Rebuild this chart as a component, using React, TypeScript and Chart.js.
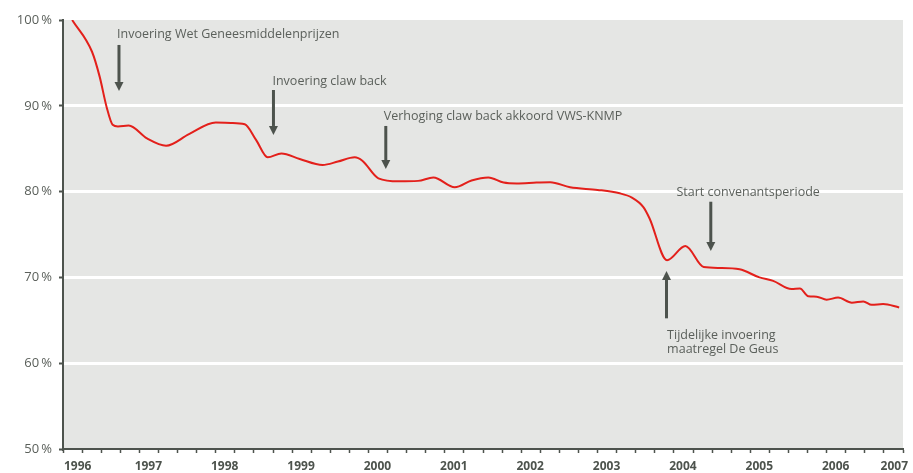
import React, { useEffect, useRef } from 'react';
import { Chart, registerables } from 'chart.js';

Chart.register(...registerables);

// ---- data ----
const yearLabels = [1996, 1997, 1998, 1999, 2000, 2001, 2002, 2003, 2004, 2005, 2006, 2007];
const yTickValues = [50, 60, 70, 80, 90, 100];

const pointYears = [
  1996.12, 1996.38, 1996.48, 1996.57, 1996.65, 1996.72, 1996.86, 1997.1, 1997.35, 1997.65,
  1998.0, 1998.2, 1998.38, 1998.53, 1998.68, 1998.86, 1999.1, 1999.4, 1999.6, 1999.82,
  1999.92, 2000.13, 2000.4, 2000.65, 2000.85, 2001.13, 2001.35, 2001.57, 2001.77, 2001.94,
  2002.2, 2002.38, 2002.64, 2003.0, 2003.29, 2003.45, 2003.6, 2003.68, 2003.91, 2004.15,
  2004.39, 2004.6, 2004.86, 2005.12, 2005.3, 2005.54, 2005.65, 2005.76, 2005.87, 2006.0,
  2006.15, 2006.33, 2006.48, 2006.59, 2006.74, 2006.95,
];
const pointValues = [
  100.0, 96.3, 93.4, 89.9, 87.8, 87.6, 87.7, 86.2, 85.35, 86.7,
  88.05, 88.0, 87.85, 86.0, 84.0, 84.45, 83.8, 83.1, 83.5, 84.0,
  83.6, 81.55, 81.2, 81.25, 81.65, 80.5, 81.3, 81.65, 81.05, 80.95,
  81.05, 81.1, 80.5, 80.2, 79.8, 79.3, 78.2, 76.9, 72.0, 73.65,
  71.2, 71.1, 70.95, 70.0, 69.6, 68.65, 68.7, 67.8, 67.75, 67.4,
  67.65, 67.05, 67.2, 66.8, 66.9, 66.5,
];

const annotationTexts = [
  ['Invoering Wet Geneesmiddelenprijzen'],
  ['Invoering claw back'],
  ['Verhoging claw back akkoord VWS-KNMP'],
  ['Start convenantsperiode'],
  ['Tijdelijke invoering', 'maatregel De Geus'],
];

// anchors in data coordinates (year, percentage)
const annotationPlacement = [
  { arrowX: 1996.733, from: 97.09, to: 91.73, textX: 1996.707, textY: [98.33] },
  { arrowX: 1998.756, from: 91.84, to: 86.6, textX: 1998.743, textY: [92.89] },
  { arrowX: 2000.227, from: 87.65, to: 82.63, textX: 2000.2, textY: [88.73] },
  { arrowX: 2004.483, from: 78.82, to: 73.08, textX: 2004.034, textY: [79.92] },
  { arrowX: 2003.903, from: 65.23, to: 70.75, textX: 2003.911, textY: [63.29, 61.62] },
];

const AXIS_DARK = '#4d534d';
const TEXT_GREY = '#5b605b';
const PLOT_BG = '#e5e6e4';
const LINE_RED = '#e3201b';
const FONT = '"Open Sans", "DejaVu Sans", sans-serif';

const decorPlugin = {
  id: 'decor',
  beforeDraw(chart: any) {
    const { ctx, chartArea } = chart;
    ctx.save();
    ctx.fillStyle = PLOT_BG;
    ctx.fillRect(chartArea.left, chartArea.top, chartArea.right - chartArea.left, chartArea.bottom - chartArea.top);
    ctx.restore();
  },
  afterDraw(chart: any) {
    const { ctx } = chart;
    const xs = chart.scales.x;
    const ys = chart.scales.y;
    ctx.save();
    // year labels
    ctx.font = `bold 12px ${FONT}`;
    ctx.fillStyle = AXIS_DARK;
    ctx.textAlign = 'center';
    ctx.textBaseline = 'middle';
    yearLabels.forEach((yr) => {
      const txt = String(yr);
      const w = ctx.measureText(txt).width;
      let px = xs.getPixelForValue(yr) + 9;
      px = Math.max(px, xs.left + 1 + w / 2);
      px = Math.min(px, chart.width - 5 - w / 2);
      ctx.fillText(txt, px, xs.top + 18);
    });

    // annotations
    annotationPlacement.forEach((a, i) => {
      const ax = xs.getPixelForValue(a.arrowX);
      const y0 = ys.getPixelForValue(a.from);
      const y1 = ys.getPixelForValue(a.to);
      const dir = y1 > y0 ? 1 : -1;
      const head = 9;
      ctx.strokeStyle = AXIS_DARK;
      ctx.fillStyle = AXIS_DARK;
      ctx.lineWidth = 3;
      ctx.beginPath();
      ctx.moveTo(ax, y0);
      ctx.lineTo(ax, y1 - dir * head);
      ctx.stroke();
      ctx.beginPath();
      ctx.moveTo(ax - 4.5, y1 - dir * head);
      ctx.lineTo(ax + 4.5, y1 - dir * head);
      ctx.lineTo(ax, y1);
      ctx.closePath();
      ctx.fill();

      ctx.font = `12.5px ${FONT}`;
      ctx.fillStyle = TEXT_GREY;
      ctx.textAlign = 'left';
      ctx.textBaseline = 'middle';
      const tx = xs.getPixelForValue(a.textX);
      annotationTexts[i].forEach((line, j) => {
        ctx.fillText(line, tx, ys.getPixelForValue(a.textY[j]));
      });
    });
    ctx.restore();
  },
};

export default function App() {
  const canvasRef = useRef<HTMLCanvasElement | null>(null);

  useEffect(() => {
    const canvas = canvasRef.current;
    if (!canvas) return;
    const chart = new Chart(canvas, {
      type: 'line',
      data: {
        datasets: [
          {
            data: pointYears.map((x, i) => ({ x, y: pointValues[i] })),
            borderColor: LINE_RED,
            borderWidth: 2,
            pointRadius: 0,
            fill: false,
            cubicInterpolationMode: 'monotone',
          },
        ],
      },
      options: {
        animation: false,
        responsive: false,
        devicePixelRatio: 1,
        layout: { padding: { top: 20, right: 10, left: 0, bottom: 0 } },
        plugins: { legend: { display: false }, tooltip: { enabled: false } },
        scales: {
          x: {
            type: 'linear',
            min: 1996,
            max: 2007,
            ticks: {
              stepSize: 0.25,
              autoSkip: false,
              maxRotation: 0,
              callback: () => '',
              font: { size: 1 },
            },
            grid: {
              drawOnChartArea: false,
              drawTicks: true,
              tickLength: 4,
              tickColor: AXIS_DARK,
              tickWidth: 1.5,
            },
            border: { display: true, color: AXIS_DARK, width: 2 },
            afterFit: (scale: any) => {
              scale.height = 24;
              scale.paddingLeft = 0;
              scale.paddingRight = 0;
            },
          },
          y: {
            type: 'linear',
            min: 50,
            max: 100,
            afterBuildTicks: (scale: any) => {
              scale.ticks = yTickValues.map((v) => ({ value: v }));
            },
            ticks: {
              padding: 7,
              color: TEXT_GREY,
              font: { family: FONT, size: 13 },
              callback: (v: any) => `${v}\u2009%`,
            },
            grid: {
              color: (c: any) => (c.tick && (c.tick.value === 50 || c.tick.value === 100) ? 'rgba(0,0,0,0)' : '#ffffff'),
              lineWidth: 3,
              tickLength: 4,
              tickColor: AXIS_DARK,
              tickWidth: 2,
            },
            border: { display: true, color: AXIS_DARK, width: 2 },
            afterFit: (scale: any) => {
              scale.width = 63;
              scale.paddingTop = 0;
              scale.paddingBottom = 0;
            },
          },
        },
      },
      plugins: [decorPlugin],
    } as any);
    return () => chart.destroy();
  }, []);

  return (
    <div style={{ position: 'fixed', left: 0, top: 0, width: 913, height: 473, background: '#fff' }}>
      <canvas ref={canvasRef} width={913} height={473} />
    </div>
  );
}
